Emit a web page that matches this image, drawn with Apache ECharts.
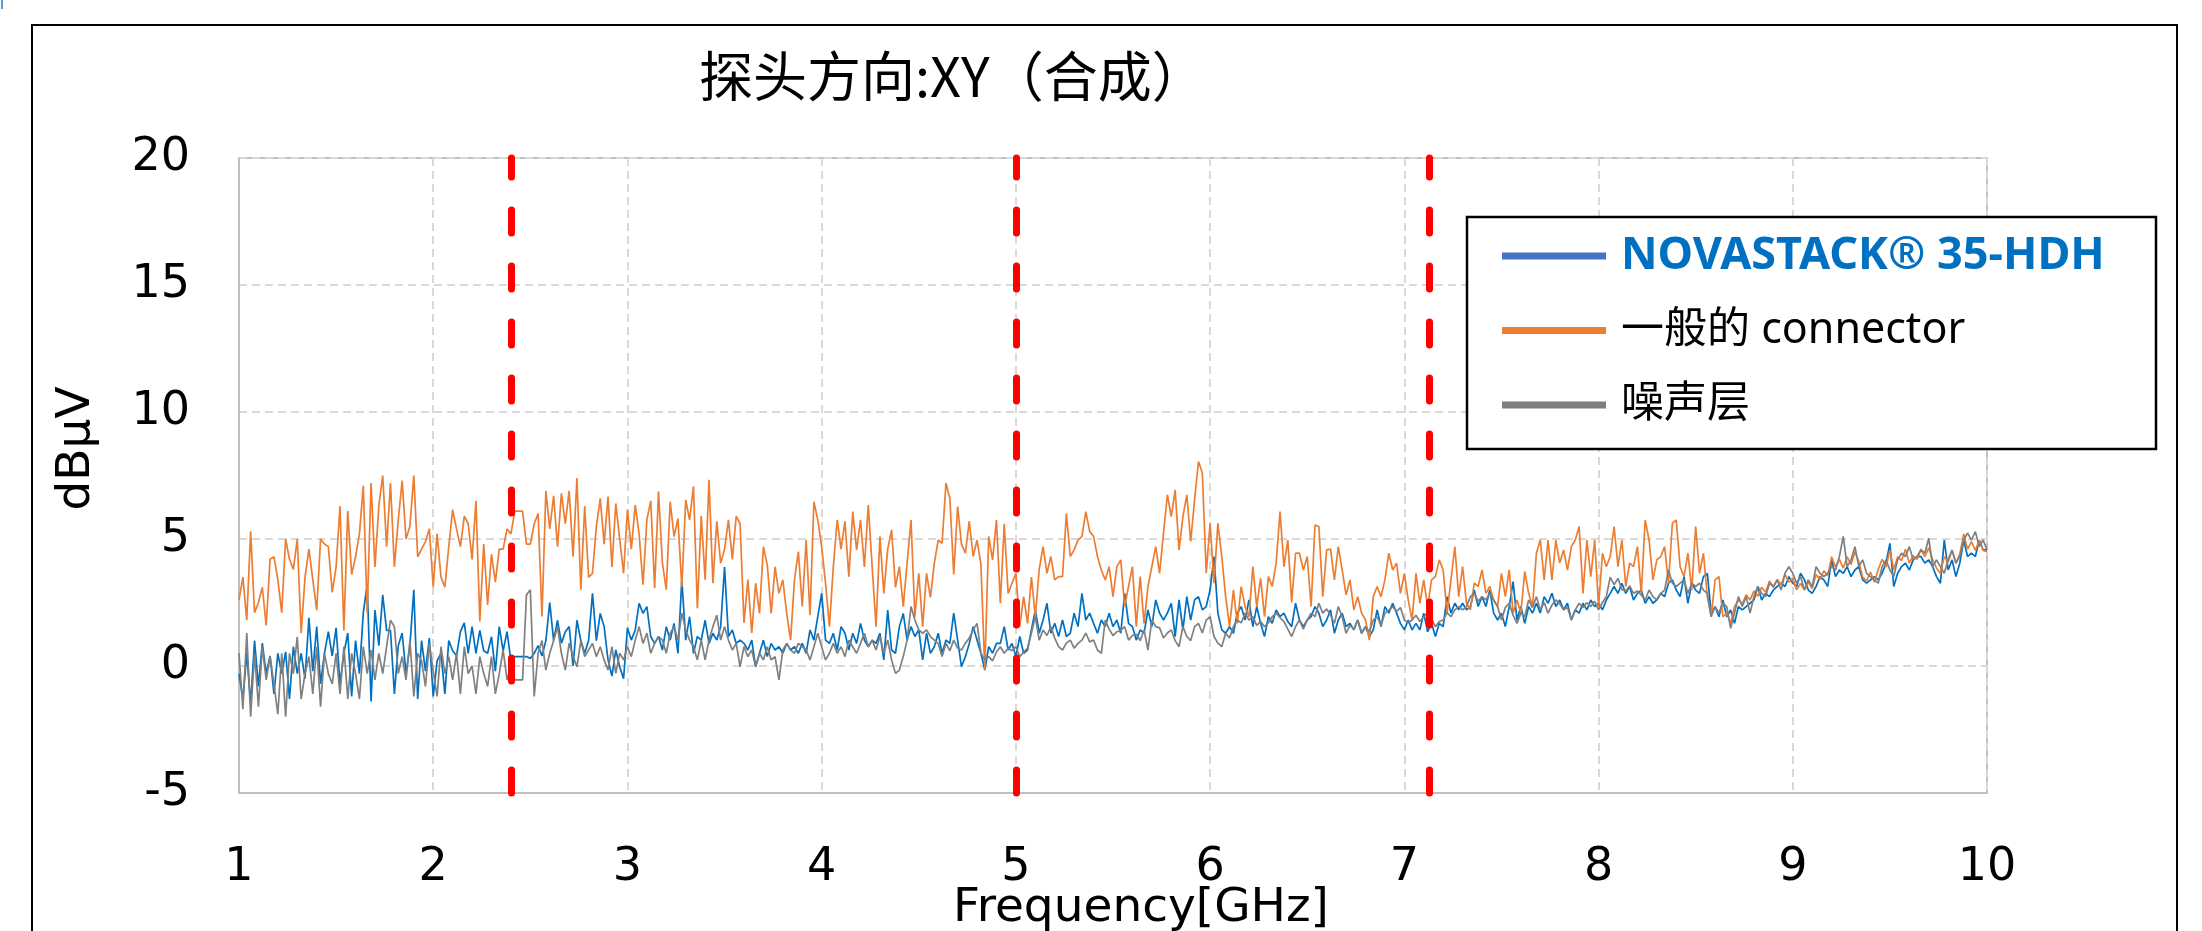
<!DOCTYPE html>
<html>
<head>
<meta charset="utf-8">
<script src="https://cdn.jsdelivr.net/npm/echarts@6/dist/echarts.min.js"></script>
<style>
html,body{margin:0;padding:0;background:#fff;}
#chart{width:2202px;height:931px;}
</style>
</head>
<body>
<div id="chart"></div>
<script>
// ---- data ----
const chartTitle = '探头方向:XY（合成）';
const seriesNames = ['NOVASTACK® 35-HDH', '一般的 connector', '噪声层'];
const xTicksGHz = [1, 2, 3, 4, 5, 6, 7, 8, 9, 10];
const yTicksDb = [-5, 0, 5, 10, 15, 20];
const markerGHz = [2.4, 5.0, 7.125];

const freqGHz = [
1,1.02,1.04,1.06,1.08,1.1,1.12,1.14,1.16,1.18,
1.2,1.22,1.24,1.26,1.28,1.3,1.32,1.34,1.36,1.38,
1.4,1.42,1.44,1.46,1.48,1.5,1.52,1.54,1.56,1.58,
1.6,1.62,1.64,1.66,1.68,1.7,1.72,1.74,1.76,1.78,
1.8,1.82,1.84,1.86,1.88,1.9,1.92,1.94,1.96,1.98,
2,2.02,2.04,2.06,2.08,2.1,2.12,2.14,2.16,2.18,
2.2,2.22,2.24,2.26,2.28,2.3,2.32,2.34,2.36,2.38,
2.4,2.42,2.44,2.46,2.48,2.5,2.52,2.54,2.56,2.58,
2.6,2.62,2.64,2.66,2.68,2.7,2.72,2.74,2.76,2.78,
2.8,2.82,2.84,2.86,2.88,2.9,2.92,2.94,2.96,2.98,
3,3.02,3.04,3.06,3.08,3.1,3.12,3.14,3.16,3.18,
3.2,3.22,3.24,3.26,3.28,3.3,3.32,3.34,3.36,3.38,
3.4,3.42,3.44,3.46,3.48,3.5,3.52,3.54,3.56,3.58,
3.6,3.62,3.64,3.66,3.68,3.7,3.72,3.74,3.76,3.78,
3.8,3.82,3.84,3.86,3.88,3.9,3.92,3.94,3.96,3.98,
4,4.02,4.04,4.06,4.08,4.1,4.12,4.14,4.16,4.18,
4.2,4.22,4.24,4.26,4.28,4.3,4.32,4.34,4.36,4.38,
4.4,4.42,4.44,4.46,4.48,4.5,4.52,4.54,4.56,4.58,
4.6,4.62,4.64,4.66,4.68,4.7,4.72,4.74,4.76,4.78,
4.8,4.82,4.84,4.86,4.88,4.9,4.92,4.94,4.96,4.98,
5,5.02,5.04,5.06,5.08,5.1,5.12,5.14,5.16,5.18,
5.2,5.22,5.24,5.26,5.28,5.3,5.32,5.34,5.36,5.38,
5.4,5.42,5.44,5.46,5.48,5.5,5.52,5.54,5.56,5.58,
5.6,5.62,5.64,5.66,5.68,5.7,5.72,5.74,5.76,5.78,
5.8,5.82,5.84,5.86,5.88,5.9,5.92,5.94,5.96,5.98,
6,6.02,6.04,6.06,6.08,6.1,6.12,6.14,6.16,6.18,
6.2,6.22,6.24,6.26,6.28,6.3,6.32,6.34,6.36,6.38,
6.4,6.42,6.44,6.46,6.48,6.5,6.52,6.54,6.56,6.58,
6.6,6.62,6.64,6.66,6.68,6.7,6.72,6.74,6.76,6.78,
6.8,6.82,6.84,6.86,6.88,6.9,6.92,6.94,6.96,6.98,
7,7.02,7.04,7.06,7.08,7.1,7.12,7.14,7.16,7.18,
7.2,7.22,7.24,7.26,7.28,7.3,7.32,7.34,7.36,7.38,
7.4,7.42,7.44,7.46,7.48,7.5,7.52,7.54,7.56,7.58,
7.6,7.62,7.64,7.66,7.68,7.7,7.72,7.74,7.76,7.78,
7.8,7.82,7.84,7.86,7.88,7.9,7.92,7.94,7.96,7.98,
8,8.02,8.04,8.06,8.08,8.1,8.12,8.14,8.16,8.18,
8.2,8.22,8.24,8.26,8.28,8.3,8.32,8.34,8.36,8.38,
8.4,8.42,8.44,8.46,8.48,8.5,8.52,8.54,8.56,8.58,
8.6,8.62,8.64,8.66,8.68,8.7,8.72,8.74,8.76,8.78,
8.8,8.82,8.84,8.86,8.88,8.9,8.92,8.94,8.96,8.98,
9,9.02,9.04,9.06,9.08,9.1,9.12,9.14,9.16,9.18,
9.2,9.22,9.24,9.26,9.28,9.3,9.32,9.34,9.36,9.38,
9.4,9.42,9.44,9.46,9.48,9.5,9.52,9.54,9.56,9.58,
9.6,9.62,9.64,9.66,9.68,9.7,9.72,9.74,9.76,9.78,
9.8,9.82,9.84,9.86,9.88,9.9,9.92,9.94,9.96,9.98,
10];

const novastackDb = [
-0.3,-1.3,0.5,-1.5,1.0,-0.8,0.9,-0.3,0.4,-1.1,
0.5,-0.3,0.56,-1.3,0.76,-0.3,0.5,-0.5,1.9,-0.2,
1.55,-0.7,0.5,1.35,0.4,1.5,-0.7,0.5,1.3,-1.2,
1.0,-0.3,2.1,3.2,-1.4,2.2,0.8,2.8,1.4,1.4,
-1.1,0.8,1.3,-0.3,0.8,3.0,-1.3,1.0,-0.2,1.1,
-1.2,0.2,0.5,-1.1,1.0,0.6,0.4,1.35,1.7,0.5,
1.55,0.5,1.4,0.6,0.5,1.15,-0.2,1.55,0.6,1.35,
0.2,0.37,0.37,0.37,0.37,0.3,0.5,0.8,0.4,1.0,
2.5,1.0,1.8,0.9,1.35,1.55,0.0,1.8,1.0,0.5,
1.0,
2.86,1.0,2.07,1.55,0.24,-0.4,0.63,-0.03,-0.5,1.5,
1.02,1.42,2.47,2.07,2.34,1.16,0.89,1.16,0.63,1.55,
1.02,1.68,0.5,3.4,1.02,1.94,0.5,1.16,1.02,1.8,
0.89,1.29,1.02,1.55,3.9,1.16,1.42,0.89,1.02,0.89,
0.63,1.02,-0.03,0.5,1.02,0.37,0.89,0.63,0.76,0.5,
0.89,0.63,0.76,0.5,0.89,0.5,1.42,1.02,1.94,2.86,
1.02,0.89,1.29,0.63,1.55,1.29,0.63,1.29,0.89,1.68,
1.02,0.76,1.02,0.89,1.29,0.24,2.2,0.63,0.5,1.55,
2.07,1.02,1.55,1.16,1.42,0.24,1.29,0.5,0.76,1.29,
0.5,1.02,0.89,2.08,1.02,-0.03,0.37,0.89,1.55,1.02,
0.5,-0.16,0.76,0.5,0.89,0.89,1.55,0.63,0.89,0.37,
1.16,0.5,0.63,1.42,2.21,1.29,1.81,2.47,1.29,1.68,
1.16,1.81,1.16,1.29,2.08,1.55,2.86,1.81,2.08,1.68,
1.29,1.81,1.55,2.08,1.55,1.81,1.29,2.86,1.68,1.55,
1.02,1.42,1.29,2.21,1.55,2.6,2.08,1.81,2.08,2.47,
1.16,2.6,1.42,2.73,1.81,2.6,2.73,2.21,2.34,3.0,
4.31,2.08,1.42,1.29,1.55,1.29,2.08,2.34,1.81,2.6,
1.55,2.34,1.68,1.16,1.94,1.68,2.21,1.94,2.08,1.75,
1.55,2.47,1.81,1.55,1.81,1.94,2.34,2.08,1.55,1.81,
2.21,1.29,1.81,2.08,1.55,1.68,1.42,1.81,1.29,1.55,
1.16,1.42,2.21,1.55,2.34,2.08,2.47,2.08,1.68,1.42,
1.81,1.42,1.68,1.42,2.08,1.35,1.68,1.16,1.68,1.55,
2.73,2.08,2.47,2.21,2.47,2.21,2.34,2.99,2.34,2.73,
2.34,2.99,2.08,1.81,2.08,1.55,2.34,3.32,1.81,2.34,
1.68,2.34,2.08,2.47,2.08,2.73,2.47,2.86,2.34,2.6,
2.21,2.47,1.81,2.21,2.08,2.47,2.21,2.6,2.34,2.47,
2.21,2.6,2.86,3.13,2.86,3.26,2.86,3.13,2.6,2.86,
2.99,2.47,2.73,2.47,2.6,2.86,2.73,3.26,3.39,2.99,
2.73,3.52,2.47,3.26,2.99,2.86,3.52,3.65,2.08,2.34,
1.94,2.6,1.94,2.21,1.68,2.34,2.21,2.34,2.47,2.6,
3.13,2.6,2.86,2.73,2.99,3.13,3.26,3.13,3.52,3.26,
3.13,3.65,3.39,2.99,2.86,3.13,3.52,3.39,3.13,4.18,
3.52,3.78,3.65,3.91,3.52,3.78,3.91,3.39,3.26,3.39,
3.52,3.39,3.65,4.05,4.83,3.13,3.65,3.91,4.05,3.78,
4.18,4.31,4.31,4.05,4.18,3.91,3.52,3.26,4.96,3.78,
4.18,3.52,4.05,4.96,4.31,4.44,4.31,4.96,4.57,4.57];

const genericDb = [
2.6,3.5,1.8,5.3,2.1,2.5,3.1,1.6,4.2,4.3,
3.4,2.1,5.0,4.2,3.8,5.0,1.3,3.5,4.6,3.4,
2.2,5.0,4.8,4.7,2.9,3.9,6.3,1.4,6.1,3.6,
4.3,5.2,7.1,2.1,7.2,3.9,6.3,7.5,4.7,7.2,
3.9,5.75,7.3,5.0,5.5,7.5,4.3,4.6,4.9,5.4,
3.1,5.2,3.5,3.1,4.7,6.15,5.4,4.7,5.9,5.6,
4.2,6.5,1.75,4.8,2.4,4.4,3.3,4.6,4.6,5.4,
5.2,6.1,6.1,6.1,4.8,4.8,5.6,6.0,1.95,6.9,
5.4,6.7,4.7,6.8,5.6,6.9,4.3,7.4,3.0,6.3,
3.5,
3.65,5.5,6.6,4.8,6.67,3.9,6.4,5.0,3.65,6.15,
4.6,6.34,5.2,3.2,5.75,6.5,3.06,6.87,4.05,3.0,
6.47,5.1,5.8,3.1,6.54,5.75,7.07,2.27,5.9,3.4,
7.33,3.26,5.7,4.05,4.6,5.75,4.2,5.9,5.6,1.7,
3.4,1.3,3.26,2.07,4.7,3.98,2.07,3.9,2.86,3.39,
2.07,1.02,3.4,4.5,2.34,4.96,2.0,6.47,5.75,4.7,
3.26,1.55,3.91,5.75,4.6,5.7,3.52,6.08,4.57,5.75,
3.9,6.34,3.91,1.55,5.1,2.86,4.6,5.36,3.1,3.91,
2.34,4.05,5.75,1.94,3.65,1.55,3.65,2.7,4.05,4.96,
4.83,7.2,6.6,3.6,6.28,4.8,4.44,5.7,4.31,4.96,
4.0,-0.15,5.1,4.18,5.75,2.47,5.6,2.86,3.26,3.65,
1.55,2.73,1.68,3.5,1.94,3.8,4.7,3.65,4.31,3.39,
3.52,3.52,6.0,4.31,4.57,4.96,5.1,6.08,5.3,5.1,
4.31,3.78,3.39,3.91,2.73,3.91,4.18,2.34,3.13,3.91,
1.55,3.52,1.68,3.13,3.91,4.7,3.65,5.23,6.74,5.88,
6.93,4.57,5.88,6.74,4.9,6.54,8.05,7.6,3.65,5.62,
3.26,5.62,4.31,2.73,1.55,2.99,1.68,3.13,2.34,1.94,
3.91,2.34,3.45,1.94,3.52,3.13,4.05,6.08,3.91,4.96,
2.5,4.44,4.44,3.78,4.31,2.34,5.55,5.49,2.73,4.57,
4.6,3.39,4.7,3.78,2.8,3.39,2.21,2.73,2.08,1.81,
1.02,2.73,3.13,2.73,3.39,4.44,3.78,4.05,2.86,3.65,
2.6,1.81,3.65,2.47,3.39,2.34,3.39,3.52,4.18,3.78,
2.08,3.39,4.7,2.73,3.91,2.47,2.21,3.26,3.13,3.78,
2.86,3.13,2.6,2.34,3.65,2.73,3.78,2.08,2.6,2.08,
3.72,2.86,2.34,4.44,4.96,3.39,4.96,3.39,4.96,4.05,
4.57,3.78,4.7,4.96,5.49,2.86,4.96,3.52,4.96,2.34,
4.44,3.91,4.31,5.49,3.91,4.96,3.13,4.05,3.91,4.7,
2.86,5.75,4.96,3.39,4.18,4.31,4.7,3.26,5.62,5.75,
3.91,3.52,4.44,2.99,5.49,3.65,4.44,2.73,1.94,3.39,
3.52,1.94,2.08,1.68,2.34,2.6,2.45,2.8,2.6,2.95,
2.75,3.1,2.9,3.35,3.1,3.4,3.2,3.6,3.3,3.45,
3.0,3.25,3.0,3.3,3.05,3.6,3.4,3.75,3.55,4.3,
3.9,4.2,3.85,4.3,4.0,4.5,4.1,3.5,3.35,3.7,
3.3,3.8,4.2,3.9,4.55,3.8,4.3,4.15,4.6,4.05,
4.35,4.2,4.6,4.3,4.65,4.2,3.85,3.65,4.3,4.1,
4.55,4.05,4.4,5.2,4.6,4.9,4.55,4.95,4.55,4.5];

const noiseFloorDb = [
0.5,-1.7,1.3,-2.0,0.5,-1.6,0.76,-0.55,0.37,-0.7,
-1.9,0.5,-2.0,0.5,-0.3,1.15,-1.3,-0.3,0.37,-1.1,
0.76,-1.6,0.5,-0.3,-0.7,0.5,-1.1,0.76,-1.3,0.5,
-0.3,-1.3,0.76,-0.3,0.63,-0.55,0.5,-0.3,0.76,1.8,
1.55,-0.3,0.37,-0.55,1.0,-1.2,0.5,0.2,-0.8,0.9,
-0.2,-1.2,0.76,-0.3,0.37,-0.55,0.5,-1.1,0.76,-0.3,
0.0,-1.1,0.37,-0.3,-0.8,0.37,-1.1,-0.3,0.63,-0.55,
0.0,-0.55,-0.55,-0.55,2.8,3.0,-1.2,0.5,1.0,-0.16,
0.5,1.0,1.55,0.5,-0.16,0.9,0.37,-0.03,1.0,0.37,
0.63,
0.89,0.37,0.76,0.24,-0.16,0.76,-0.29,0.5,0.24,0.76,
0.37,1.02,1.55,0.89,1.29,0.5,0.89,1.16,1.02,0.5,
1.29,1.55,1.02,2.08,1.42,1.02,0.76,0.24,1.02,0.24,
1.02,1.55,2.0,1.02,1.55,1.02,0.63,0.89,-0.03,0.76,
0.37,0.63,-0.03,0.5,0.24,0.76,0.24,0.37,-0.55,0.63,
0.89,0.63,0.5,0.89,0.76,0.63,0.24,0.76,1.29,0.76,
0.24,0.5,0.89,0.5,0.76,0.37,1.02,0.76,0.5,0.89,
1.29,0.76,1.02,0.63,1.16,0.5,1.02,0.24,-0.29,-0.16,
0.37,1.02,2.34,1.81,1.42,1.29,1.42,1.16,1.02,0.89,
0.37,0.89,0.6,1.02,0.7,0.63,0.9,1.1,1.42,1.68,
0.5,0.24,0.37,0.2,0.55,0.76,0.5,0.7,0.6,0.76,
0.37,0.55,0.7,1.3,1.94,1.02,1.42,1.2,1.55,1.1,
0.76,0.63,0.9,1.02,0.7,0.89,1.02,1.3,0.95,1.02,
0.63,0.5,1.81,1.45,1.2,1.35,1.4,1.55,1.02,1.2,
1.25,1.0,1.42,0.63,1.81,1.55,1.5,1.1,1.3,1.42,
1.0,0.76,1.55,1.16,1.0,1.55,1.68,1.3,1.81,1.94,
1.16,0.9,0.76,1.29,1.1,1.55,1.81,1.7,2.08,1.81,
1.94,1.6,1.75,1.55,1.7,1.94,2.08,1.9,1.75,1.45,
1.16,1.55,1.81,1.45,1.81,2.08,1.94,2.47,2.08,2.25,
2.0,1.68,2.34,1.94,1.29,1.6,1.45,1.81,1.29,1.55,
1.35,1.81,1.94,1.6,2.08,2.2,2.34,2.15,2.3,1.81,
1.7,1.81,2.0,1.75,1.94,2.1,1.85,1.55,1.75,1.81,
2.1,1.94,2.21,2.34,2.21,2.34,2.73,2.86,2.55,2.73,
2.6,2.86,2.6,2.34,1.81,2.3,2.47,2.0,1.68,2.08,
1.94,2.6,2.3,2.73,2.21,2.5,2.08,2.4,2.6,2.45,
2.21,2.3,1.81,2.21,2.47,2.3,2.5,2.34,2.55,2.21,
2.5,2.73,3.5,3.2,3.45,3.0,2.95,3.15,2.86,2.95,
2.8,2.6,2.99,2.73,2.6,2.86,2.99,3.78,3.26,3.13,
3.26,3.39,2.86,3.26,3.13,3.26,2.99,2.86,1.94,2.34,
2.08,2.47,2.34,1.48,2.08,2.73,2.34,2.73,2.08,2.73,
3.13,2.86,2.73,3.26,3.13,3.39,2.99,3.65,3.91,3.65,
3.26,3.52,2.99,3.39,3.13,3.91,3.65,3.52,3.65,3.91,
3.78,4.31,5.1,3.91,4.18,4.7,3.91,4.18,3.65,3.52,
3.39,3.26,3.91,4.18,3.78,3.52,4.18,4.44,4.31,4.7,
4.18,4.31,4.57,4.44,5.03,3.91,4.18,3.91,3.65,4.18,
4.57,4.05,4.31,4.96,5.23,4.96,5.29,4.7,4.96,4.57];

// ---- chart ----
const pairs = arr => freqGHz.map((f, i) => [f, arr[i]]);
const chart = echarts.init(document.getElementById('chart'), null, {renderer: 'canvas', width: 2202, height: 931});

const axisFont = "'DejaVu Sans', Verdana, sans-serif";
const legendFont = "'Noto Sans', 'Noto Sans CJK SC', sans-serif";

chart.setOption({
  animation: false,
  backgroundColor: '#ffffff',
  title: {
    text: chartTitle,
    left: 694, top: 44,
    textStyle: {fontFamily: "'Noto Sans CJK SC', sans-serif", fontSize: 54, fontWeight: 'normal', color: '#000'}
  },
  grid: {left: 239, right: 215, top: 158, bottom: 138, containLabel: false, outerBoundsMode: 'none',
         show: true, borderColor: '#BFBFBF', borderWidth: 2, backgroundColor: 'transparent'},
  xAxis: {
    type: 'value', min: xTicksGHz[0], max: xTicksGHz[xTicksGHz.length - 1], interval: 1,
    name: 'Frequency[GHz]', nameLocation: 'middle', nameGap: 92, nameMoveOverlap: false,
    nameTextStyle: {fontFamily: axisFont, fontSize: 47, color: '#000', padding: [0, 0, 0, 56]},
    axisLine: {show: true, onZero: false, lineStyle: {color: '#BFBFBF', width: 2}},
    axisTick: {show: false},
    axisLabel: {fontFamily: axisFont, fontSize: 46, color: '#000', margin: 52},
    splitLine: {show: true, lineStyle: {color: '#D9D9D9', width: 2, type: [8, 5]}}
  },
  yAxis: {
    type: 'value', min: yTicksDb[0], max: yTicksDb[yTicksDb.length - 1], interval: 5,
    name: 'dBμV', nameLocation: 'middle', nameRotate: 90, nameGap: 139, nameMoveOverlap: false,
    nameTextStyle: {fontFamily: axisFont, fontSize: 47, color: '#000', padding: [0, 0, 0, 54]},
    axisLine: {show: true, onZero: false, lineStyle: {color: '#BFBFBF', width: 2}},
    axisTick: {show: false},
    axisLabel: {fontFamily: axisFont, fontSize: 46, color: '#000', margin: 49},
    splitLine: {show: true, lineStyle: {color: '#D9D9D9', width: 2, type: [8, 5]}}
  },
  legend: {
    orient: 'vertical', left: 1502, top: 221, padding: 0, itemGap: 4.5,
    itemWidth: 104, itemHeight: 7, icon: 'rect', z: 12,
    textStyle: {fontFamily: legendFont, fontSize: 43, color: '#000', lineHeight: 50, padding: [20, 0, 0, 10]},
    data: [
      {name: seriesNames[0], itemStyle: {color: '#4472C4'}, textStyle: {color: '#0070C0', fontWeight: 'bold', fontSize: 45}},
      {name: seriesNames[1], itemStyle: {color: '#ED7D31'}},
      {name: seriesNames[2], itemStyle: {color: '#7F7F7F'}}
    ]
  },
  graphic: [
    {type: 'rect', z: 10, shape: {x: 1467, y: 217, width: 689, height: 232}, style: {fill: '#fff', stroke: '#000', lineWidth: 2.5}},
    {type: 'rect', z: 1, shape: {x: 32, y: 25, width: 2145, height: 960}, style: {fill: 'none', stroke: '#000', lineWidth: 2}},
    {type: 'line', z: 1, shape: {x1: 2, y1: 0, x2: 2, y2: 9}, style: {stroke: '#5B9BD5', lineWidth: 2}}
  ],
  series: [
    {name: seriesNames[0], type: 'line', data: pairs(novastackDb), showSymbol: false, symbol: 'none',
     color: '#0070C0', lineStyle: {color: '#0070C0', width: 1.7}, z: 2},
    {name: seriesNames[1], type: 'line', data: pairs(genericDb), showSymbol: false, symbol: 'none',
     color: '#ED7D31', lineStyle: {color: '#ED7D31', width: 1.7}, z: 2},
    {name: seriesNames[2], type: 'line', data: pairs(noiseFloorDb), showSymbol: false, symbol: 'none',
     color: '#808080', lineStyle: {color: '#808080', width: 1.7}, z: 3,
     markLine: {
       silent: true, symbol: ['none', 'none'], label: {show: false},
       lineStyle: {color: '#FF0000', width: 7, type: [23, 33], cap: 'round', opacity: 1},
       emphasis: {disabled: true},
       data: markerGHz.map(v => ({xAxis: v}))
     }}
  ]
});
</script>
</body>
</html>
